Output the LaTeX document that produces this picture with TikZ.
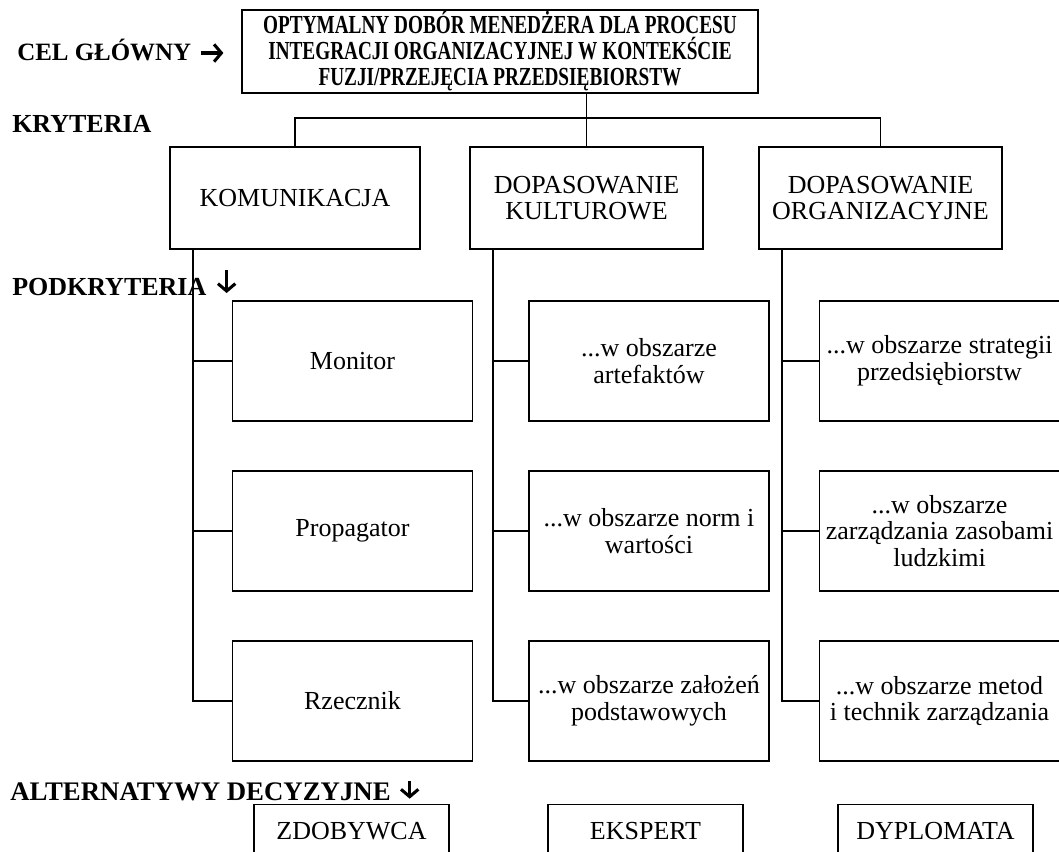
\documentclass[tikz,border=0pt]{standalone}
\usepackage{fontspec}
\setmainfont{Liberation Serif}
\newfontfamily\waski[FakeStretch=0.74]{Liberation Serif}
\usetikzlibrary{positioning,arrows.meta}
\tikzset{
  ramka/.style={draw,line width=1.1pt,align=center,inner sep=0pt,font=\fontsize{19.5}{20}\selectfont},
  kryterium/.style={ramka,minimum height=76.5pt},
  podkryterium/.style={ramka,minimum width=180pt,minimum height=90pt},
  wariant/.style={ramka,anchor=north,minimum width=146.25pt,text height=26.25pt,text depth=40pt},
  poziom/.style={anchor=base west,inner sep=0pt,font=\fontsize{19.5}{20}\selectfont\bfseries},
  grot/.style={line width=2.3pt,-{Straight Barb[length=5.5pt,width=13pt]}},
  linia/.style={line width=1.2pt}
}

\begin{document}
\begin{tikzpicture}[x=0.75pt,y=-0.75pt]
  \useasboundingbox (0,0) rectangle (1059,851);
  \clip (0,0) rectangle (1059,851);

  % Level labels
  \node[poziom,font=\fontsize{18.7}{20}\selectfont\bfseries] (lcel) at (17,60) {CEL GŁÓWNY};
  \node[poziom] (lkryt) at (12,132) {KRYTERIA};
  \node[poziom] (lpod) at (12,295) {PODKRYTERIA};
  \node[poziom,font=\fontsize{20.1}{20}\selectfont\bfseries] (lalt) at (10,800) {ALTERNATYWY DECYZYJNE};
  \draw[grot] ([xshift=7pt,yshift=5.25pt]lcel.base east) -- ++(17pt,0pt);
  \draw[grot] ([xshift=15pt,yshift=18.5pt]lpod.base east) -- ++(0pt,-17pt);
  \draw[grot] ([xshift=14pt,yshift=14pt]lalt.base east) -- ++(0pt,-13pt);

  % Goal
  \node[ramka,minimum width=387pt,minimum height=62.25pt,
        font=\waski\fontsize{19.5}{19.5}\selectfont\bfseries] (cel) at (500,51.5)
        {OPTYMALNY DOBÓR MENEDŻERA DLA PROCESU\\INTEGRACJI ORGANIZACYJNEJ W KONTEKŚCIE\\FUZJI/PRZEJĘCIA PRZEDSIĘBIORSTW};

  % Criteria
  \node[kryterium,minimum width=187.5pt] (kom) at (295,198) {KOMUNIKACJA};
  \node[kryterium,minimum width=174.75pt] (kult) at (586.5,198) {DOPASOWANIE\\KULTUROWE};
  \node[kryterium,minimum width=182.25pt] (org) at (880.5,198) {DOPASOWANIE\\ORGANIZACYJNE};

  \coordinate[above=21pt of kom.north] (szyna);
  \draw[linia] (kom.north) -- (szyna) -- (szyna -| org.north) -- (org.north);
  \draw[linia] (cel.south -| kult.north) -- (kult.north);

  % Sub-criteria
  \node[podkryterium] (monitor) at (352.5,361) {Monitor};
  \node[podkryterium,below=36.4pt of monitor] (propagator) {Propagator};
  \node[podkryterium,below=36.4pt of propagator] (rzecznik) {Rzecznik};

  \node[podkryterium] (artef) at (649,361) {...w obszarze\\artefaktów};
  \node[podkryterium,below=36.4pt of artef] (normy) {...w obszarze norm i\\wartości};
  \node[podkryterium,below=36.4pt of normy] (zalozenia) {...w obszarze założeń\\podstawowych};

  \node[podkryterium] (strategia) at (939.5,361) {...w obszarze strategii\\przedsiębiorstw};
  \node[podkryterium,below=36.4pt of strategia] (hr) {...w obszarze\\zarządzania zasobami\\ludzkimi};
  \node[podkryterium,below=36.4pt of hr] (metody) {...w obszarze metod\\i technik zarządzania};

  \coordinate[right=18pt of kom.south west] (p1);
  \coordinate[right=18pt of kult.south west] (p2);
  \coordinate[right=18pt of org.south west] (p3);
  \foreach \b in {monitor,propagator,rzecznik} \draw[linia] (p1) |- (\b.west);
  \foreach \b in {artef,normy,zalozenia} \draw[linia] (p2) |- (\b.west);
  \foreach \b in {strategia,hr,metody} \draw[linia] (p3) |- (\b.west);

  % Decision alternatives
  \node[wariant] (zdob) at (351.5,804) {ZDOBYWCA};
  \node[wariant] (eksp) at (645.5,804) {EKSPERT};
  \node[wariant] (dypl) at (935.5,804) {DYPLOMATA};
\end{tikzpicture}
\end{document}
